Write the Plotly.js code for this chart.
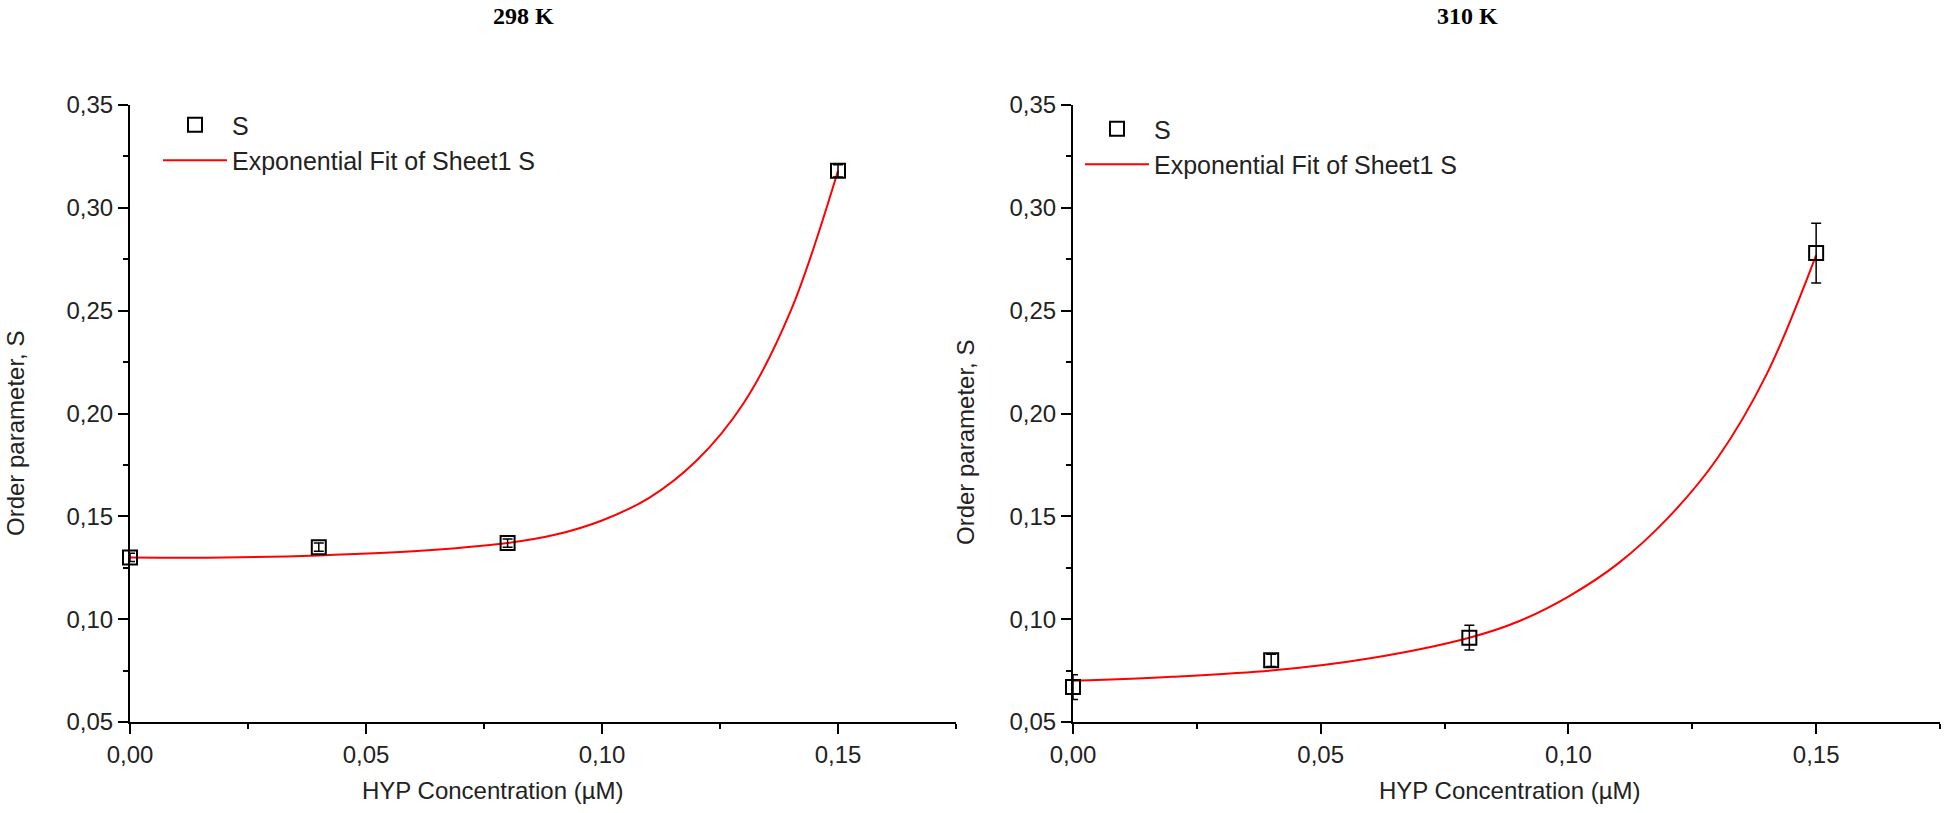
<!DOCTYPE html>
<html>
<head>
<meta charset="utf-8">
<script src="https://cdn.plot.ly/plotly-3.0.1.min.js"></script>
<style>html,body{margin:0;padding:0;background:#fff;}#chart{width:1946px;height:813px;}</style>
</head>
<body>
<div id="chart"></div>
<script>
// ---- data ----
const concentration = [0, 0.04, 0.08, 0.15];

const s298 = [0.130, 0.135, 0.137, 0.318];
const s298Err = [0.002, 0.002, 0.002, 0.003];

const s310 = [0.067, 0.080, 0.091, 0.278];
const s310Err = [0.006, 0.003, 0.006, 0.0145];

// points
const fitX = [0, 0.02, 0.04, 0.06, 0.08, 0.09, 0.10, 0.11, 0.12, 0.13, 0.14, 0.15];
const fit298 = [0.130, 0.130, 0.131, 0.133, 0.137, 0.141, 0.148, 0.159, 0.177, 0.205, 0.250, 0.318];
const fit310 = [0.070, 0.072, 0.075, 0.081, 0.091, 0.099, 0.111, 0.127, 0.149, 0.178, 0.219, 0.277];

const panelTitles = ['298 K', '310 K'];
const xTitle = 'HYP Concentration (µM)';
const yTitle = 'Order parameter, S';
const pointName = 'S';
const fitName = 'Exponential Fit of Sheet1 S';

// ---- styling ----
const W = 1946, H = 813;
const px = v => v / W;
const py = v => 1 - v / H;
const FONT = 'Liberation Sans, Arial, sans-serif';
const TXT = '#222';

function pointTrace(y, err, xa, ya, leg) {
  return {
    x: concentration, y: y, xaxis: xa, yaxis: ya, legend: leg,
    type: 'scatter', mode: 'markers', name: pointName,
    marker: {symbol: 'square-open', size: 14, color: '#000', line: {width: 2, color: '#000'}},
    error_y: {type: 'data', array: err, visible: true, color: '#000', thickness: 1.5, width: 5},
    cliponaxis: false
  };
}
function fitTrace(y, xa, ya, leg) {
  return {
    x: fitX, y: y, xaxis: xa, yaxis: ya, legend: leg,
    type: 'scatter', mode: 'lines', name: fitName,
    line: {color: '#ff0000', width: 2, shape: 'spline', smoothing: 1},
    cliponaxis: false
  };
}

const traces = [
  fitTrace(fit298, 'x', 'y', 'legend'),
  pointTrace(s298, s298Err, 'x', 'y', 'legend'),
  fitTrace(fit310, 'x2', 'y2', 'legend2'),
  pointTrace(s310, s310Err, 'x2', 'y2', 'legend2')
];

function xAxis(domain, anchor) {
  return {
    domain: domain, anchor: anchor, range: [0, 0.175], autorange: false,
    tickvals: [0, 0.05, 0.10, 0.15], tickformat: '.2f',
    ticks: 'outside', ticklen: 10, tickwidth: 2, tickcolor: '#000',
    minor: {tickvals: [0.025, 0.075, 0.125, 0.175], ticks: 'outside', ticklen: 5, tickwidth: 2, tickcolor: '#000'},
    showline: true, linecolor: '#000', linewidth: 2, showgrid: false, zeroline: false,
    tickfont: {family: FONT, size: 24, color: TXT}
  };
}
function yAxis(domain, anchor) {
  return {
    domain: domain, anchor: anchor, range: [0.05, 0.35], autorange: false,
    dtick: 0.05, tick0: 0.05, tickformat: '.2f',
    ticks: 'outside', ticklen: 10, tickwidth: 2, tickcolor: '#000',
    minor: {dtick: 0.025, ticks: 'outside', ticklen: 5, tickwidth: 2, tickcolor: '#000'},
    showline: true, linecolor: '#000', linewidth: 2, showgrid: false, zeroline: false,
    tickfont: {family: FONT, size: 24, color: TXT}
  };
}

function ann(text, x, y, size, family, angle) {
  return {text: text, xref: 'paper', yref: 'paper', x: px(x), y: py(y),
          xanchor: 'center', yanchor: 'middle', showarrow: false, textangle: angle || 0,
          font: {family: family, size: size, color: family === FONT ? TXT : '#000'}};
}

const yDom = [py(722), py(105)];
const legendStyle = {xanchor: 'left', yanchor: 'top', bgcolor: 'rgba(0,0,0,0)',
  font: {family: FONT, size: 25, color: TXT}, traceorder: 'reversed', itemwidth: 64, tracegroupgap: 0};

const layout = {
  width: W, height: H,
  margin: {l: 0, r: 0, t: 0, b: 0},
  paper_bgcolor: '#fff', plot_bgcolor: '#fff',
  separators: ', ',
  font: {family: FONT, size: 24, color: TXT},
  xaxis: xAxis([px(130), px(956)], 'y'),
  yaxis: yAxis(yDom, 'x'),
  xaxis2: xAxis([px(1073), px(1940)], 'y2'),
  yaxis2: yAxis(yDom, 'x2'),
  legend: Object.assign({x: px(158), y: py(102)}, legendStyle),
  legend2: Object.assign({x: px(1080), y: py(106)}, legendStyle),
  annotations: [
    ann('<b>' + panelTitles[0] + '</b>', 523, 16, 24, 'Liberation Serif, Times New Roman, serif'),
    ann('<b>' + panelTitles[1] + '</b>', 1467, 16, 24, 'Liberation Serif, Times New Roman, serif'),
    ann(yTitle, 15, 434, 24, FONT, -90),
    ann(yTitle, 966, 443, 24, FONT, -90),
    ann(xTitle, 492, 790, 24, FONT),
    ann(xTitle, 1509, 790, 24, FONT)
  ]
};

Plotly.newPlot('chart', traces, layout, {displayModeBar: false, staticPlot: true});
</script>
</body>
</html>
